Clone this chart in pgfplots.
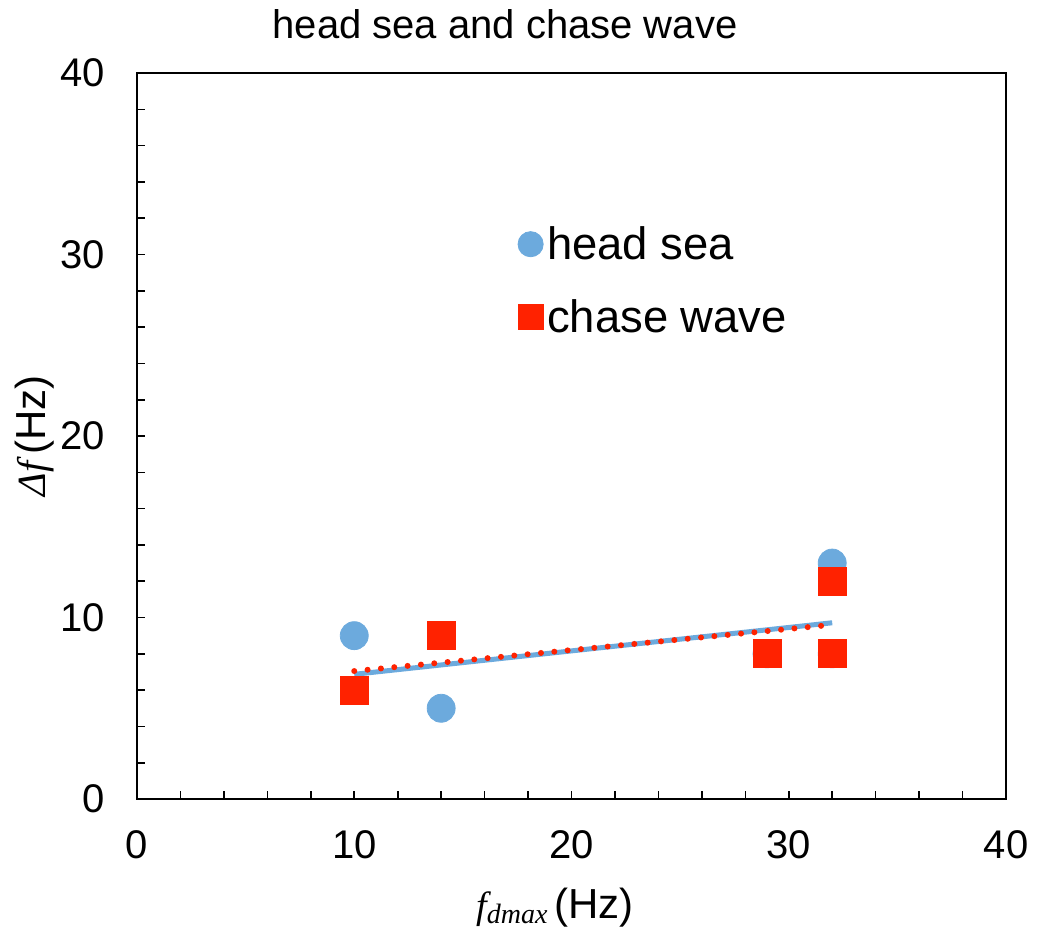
\documentclass[border=0pt]{standalone}
\usepackage{pgfplots}
\pgfplotsset{compat=1.18}
\usepackage{fontspec}
\setmainfont{Liberation Sans}
\newfontfamily\serifit{Liberation Serif}
\definecolor{headblue}{RGB}{108,170,221}
\definecolor{chasered}{RGB}{255,34,0}
\pgfplotsset{markonly legend/.style={legend image code/.code={\draw[##1, mark size=6.3pt] plot coordinates {(0.2cm,0cm)};}}}
\begin{document}
\begin{tikzpicture}
\begin{axis}[
  at={(0,0)}, anchor=south west,
  scale only axis, width=434.5pt, height=363pt,
  xmin=0, xmax=40, ymin=0, ymax=40,
  xtick={0,10,20,30,40}, ytick={0,10,20,30,40},
  minor tick num=4,
  tick align=inside, xtick pos=bottom, ytick pos=left,
  major tick length=4pt, minor tick length=4pt,
  every tick/.style={black, line width=0.8pt},
  axis line style={line width=1.2pt},
  /pgf/number format/assume math mode=true,
  tick label style={font=\fontsize{20}{24}\selectfont, inner sep=0pt},
  yticklabel style={anchor=east, xshift=-16pt},
  xticklabel style={anchor=north, yshift=-15.5pt},
  title={head sea and chase wave},
  title style={font=\fontsize{20}{24}\selectfont, at={(0.4235,1)}, anchor=base, yshift=11.5pt, inner sep=0pt},
  xlabel={{\serifit\itshape\fontsize{19}{20}\selectfont f\raisebox{-0.3ex}{\fontsize{14}{15}\selectfont dmax}}\,(Hz)},
  xlabel style={font=\fontsize{21}{24}\selectfont, at={(0.481,0)}, anchor=base, yshift=-59.5pt, inner sep=0pt},
  ylabel={{\serifit\itshape\fontsize{20}{22}\selectfont Δf}\,(Hz)},
  ylabel style={font=\fontsize{21}{24}\selectfont, at={(0,0.5)}, anchor=center, yshift=51pt, inner sep=0pt},
  legend style={draw=none, fill=none, at={(0.438,0.795)}, anchor=north west,
    font=\fontsize{22.7}{26}\selectfont, row sep=14.5pt, inner sep=0pt,
    nodes={inner xsep=2pt}},
  legend cell align=left,
]
\addplot[only marks, mark=*, mark size=7pt, draw=headblue, fill=headblue, markonly legend]
  coordinates {(10,9) (14,5) (29,8) (32,13) (32,8)};
\addlegendentry{head sea}
\addplot[only marks, mark=square*, mark size=7pt, draw=chasered, fill=chasered, markonly legend]
  coordinates {(10,6) (14,9) (29,8) (32,12) (32,8)};
\addlegendentry{chase wave}
\addplot[forget plot, headblue, line width=2.5pt] coordinates {(10,6.87) (32,9.71)};
\addplot[forget plot, chasered, line width=3pt, line cap=round, dash pattern=on 0pt off 6.7pt] coordinates {(10,7.05) (32,9.60)};
\end{axis}
\pgfresetboundingbox
\path (-68.5pt,-64.5pt) rectangle (450pt,399.5pt);
\end{tikzpicture}
\end{document}
